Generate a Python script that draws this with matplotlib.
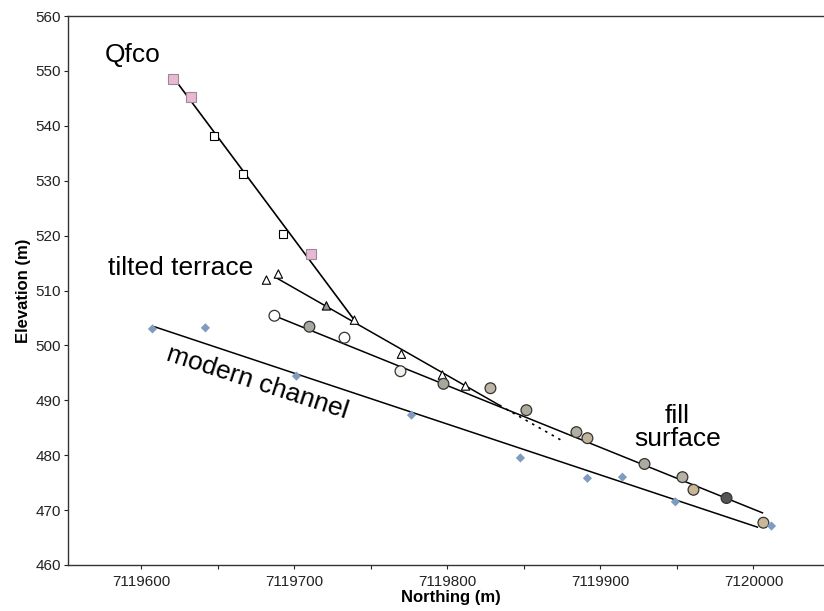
import numpy as np
import matplotlib.pyplot as plt
from matplotlib.ticker import MultipleLocator

plt.rcParams['font.family'] = ['Liberation Sans', 'DejaVu Sans']

# Qfco fan surface
qfco_n = [7119620.9, 7119632.7, 7119647.1, 7119666.7, 7119692.2, 7119710.5]
qfco_e = [548.5, 545.2, 538.1, 531.2, 520.3, 516.6]
qfco_pink = [True, True, False, False, False, True]
qfco_line_n = [7119622.2, 7119739.2]
qfco_line_e = [548.3, 504.6]

# tilted terrace
terr_n = [7119681.7, 7119689.5, 7119720.9, 7119739.2, 7119769.9, 7119796.7, 7119811.8]
terr_e = [511.9, 513.0, 507.2, 504.6, 498.4, 494.6, 492.6]
terr_line_n = [7119688.2, 7119834.0]
terr_line_e = [512.3, 489.1]
terr_dash_n = [7119834.0, 7119875.2]
terr_dash_e = [489.1, 482.6]

# fill surface
fill_n = [7119686.9, 7119709.8, 7119732.7, 7119769.3, 7119797.4, 7119828.1, 7119851.6,
          7119884.3, 7119891.5, 7119928.8, 7119953.6, 7119960.8, 7119982.4, 7120006.5]
fill_e = [505.4, 503.4, 501.4, 495.3, 493.0, 492.2, 488.2,
          484.2, 483.1, 478.4, 476.0, 473.7, 472.2, 467.7]
fill_line_n = [7119686.9, 7120005.9]
fill_line_e = [505.4, 469.5]

# modern channel
chan_n = [7119607.2, 7119641.8, 7119701.3, 7119776.5, 7119847.7, 7119891.5,
          7119914.4, 7119949.0, 7120011.8]
chan_e = [503.0, 503.2, 494.4, 487.3, 479.5, 475.8, 476.0, 471.5, 467.1]
chan_line_n = [7119608.5, 7120002.6]
chan_line_e = [503.4, 466.9]

x_ticks = [7119600, 7119700, 7119800, 7119900, 7120000]
y_ticks = [460, 470, 480, 490, 500, 510, 520, 530, 540, 550, 560]

# marker colours for the fill surface points
fill_face = ['white', '#a8a8a0', 'white', '#f2f0ea', '#a9a69c', '#bdb5a6', '#b0aa9e',
             '#b3ada2', '#c2b49c', '#aeaaa2', '#b8b0a2', '#c9b696', '#555555', '#c8b898']

fig = plt.figure(figsize=(8.24, 6.11), dpi=100)
ax = fig.add_axes([68 / 824, 1 - 565 / 611, 765 / 824, 549 / 611])

# fitted lines
ax.plot(qfco_line_n, qfco_line_e, color='black', lw=1.2, zorder=2)
ax.plot(terr_line_n, terr_line_e, color='black', lw=1.1, zorder=2)
ax.plot(terr_dash_n, terr_dash_e, color='black', lw=1.2, ls=(0, (1.5, 3)), zorder=2)
ax.plot(fill_line_n, fill_line_e, color='black', lw=1.1, zorder=2)
ax.plot(chan_line_n, chan_line_e, color='black', lw=1.1, zorder=2)

# points
for n, e, p in zip(qfco_n, qfco_e, qfco_pink):
    if p:
        ax.plot(n, e, 's', ms=7, mfc='#e9b9d3', mec='#9a8a95', mew=0.8, zorder=3)
    else:
        ax.plot(n, e, 's', ms=5.5, mfc='white', mec='black', mew=0.8, zorder=3)

terr_face = ['white', 'white', '#9a9a9a', 'white', 'white', 'white', 'white']
ax.scatter(terr_n, terr_e, marker='^', s=36, c=terr_face, edgecolors='black',
           linewidths=0.8, zorder=3)

ax.scatter(fill_n, fill_e, marker='o', s=60, c=fill_face, edgecolors='#333333',
           linewidths=0.9, zorder=3)

ax.scatter(chan_n, chan_e, marker='D', s=22, c='#7d9cc0', edgecolors='none', zorder=3)

# labels on the plot
ax.text(7119575.8, 551.6, 'Qfco', fontsize=19, va='baseline', ha='left')
ax.text(7119578.4, 512.8, 'tilted terrace', fontsize=19, va='baseline', ha='left')
ax.text(7119675.8, 493.2, 'modern channel', fontsize=19, ha='center', va='center',
        rotation=-18, rotation_mode='anchor')
ax.text(7119950.3, 485.1, 'fill\nsurface', fontsize=19, ha='center', va='center',
        multialignment='center', linespacing=0.95)

ax.set_xlim(7119552, 7120052)
ax.set_ylim(460, 560)
ax.set_xticks(x_ticks)
ax.set_xticklabels([str(t) for t in x_ticks])
ax.xaxis.set_minor_locator(MultipleLocator(50))
ax.set_yticks(y_ticks)
ax.set_yticklabels([str(t) for t in y_ticks])

ax.tick_params(axis='both', which='both', direction='out', length=3, width=0.8,
               labelsize=11, pad=2, colors='#222222')
ax.tick_params(axis='x', pad=4)

for side in ['left', 'bottom', 'top']:
    ax.spines[side].set_color('#333333')
    ax.spines[side].set_linewidth(1.0)
ax.spines['right'].set_visible(False)

ax.set_xlabel('Northing (m)', fontsize=12, fontweight='bold', labelpad=1)
ax.set_ylabel('Elevation (m)', fontsize=12, fontweight='bold', labelpad=3)

fig.savefig('out.png', dpi=100)
